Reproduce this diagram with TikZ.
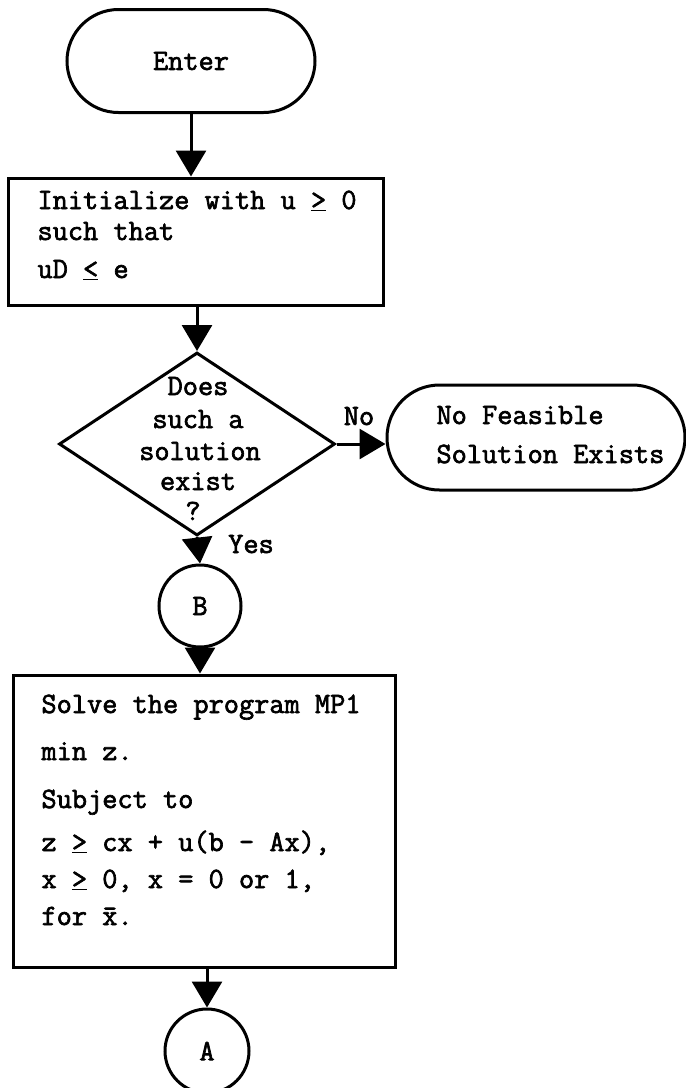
\documentclass[tikz,border=0pt]{standalone}
\usepackage{fontspec}
\newfontfamily\twfont{Latin Modern Mono}[FakeBold=2.2]
\usetikzlibrary{shapes.geometric,shapes.misc,arrows.meta}
\begin{document}
\begin{tikzpicture}[x=1pt,y=-1pt,
  line width=3pt,
  every node/.style={font=\fontsize{29.5}{34}\selectfont\twfont},
  term/.style={draw, rounded rectangle, inner sep=0pt},
  procbox/.style={draw, rectangle, inner sep=0pt},
  decision/.style={draw, diamond, inner sep=0pt},
  conn/.style={draw, circle, inner sep=0pt},
  txt/.style={anchor=base west, inner sep=0pt},
  ctxt/.style={anchor=base, inner sep=0pt},
  flow/.style={-{Triangle[width=30pt,length=26pt]}, line width=3pt},
]
\useasboundingbox (0,0) rectangle (686,1088);

% Enter terminal
\node[term, minimum width=248pt, minimum height=103pt] (enter) at (191,61) {Enter};

% Initialize box
\node[procbox, minimum width=375pt, minimum height=127pt] (init) at (195.5,241.5) {};
\node[txt] (i1) at (36,209) {Initialize with u \underline{>} 0};
\node[txt] (i2) at (36,240) {such that};
\node[txt] (i3) at (36,278) {uD \underline{<} e};

% Decision
\node[decision, minimum width=276pt, minimum height=183pt] (dec) at (197,444) {};
\node[ctxt] (d1) at (198,395) {Does};
\node[ctxt] (d2) at (198,428) {such a};
\node[ctxt] (d3) at (200,460) {solution};
\node[ctxt] (d4) at (198,490) {exist};
\node[ctxt] (d5) at (193,520) {?};

% No feasible terminal
\node[term, minimum width=298pt, minimum height=105pt] (nofeas) at (536,437.5) {};
\node[txt] (n1) at (435,424) {No Feasible};
\node[txt] (n2) at (435,463) {Solution Exists};

% Connector B
\node[conn, minimum size=82pt] (B) at (200,606) {B};

% Solve box
\node[procbox, minimum width=382pt, minimum height=292pt] (solve) at (204,821) {};
\node[txt] (s1) at (40,713) {Solve the program MP1};
\node[txt] (s2) at (40,760) {min z.};
\node[txt] (s3) at (40,808) {Subject to};
\node[txt] (s4) at (40,851) {z \underline{>} cx + u(b - Ax),};
\node[txt] (s5) at (40,888) {x \underline{>} 0, x = 0 or 1,};
\node[txt] (s6) at (40,925) {for \={x}.};

% Connector A
\node[conn, minimum size=84pt] (A) at (207,1051) {A};

% Connectors
\draw[flow] (enter.south) -- (enter.south |- init.north);
\draw[flow] (init.south -| dec.north) -- (dec.north);
\draw[flow] (dec.east) -- (dec.east -| nofeas.west);
\node[ctxt] (nolab) at (359,425) {No};
\draw[flow] (dec.south) -- (B.north);
\node[ctxt] (yeslab) at (251,553) {Yes};
\draw[flow] (B.south) -- (B.south |- solve.north);
\draw[flow] (A.north |- solve.south) -- (A.north);
\end{tikzpicture}
\end{document}
